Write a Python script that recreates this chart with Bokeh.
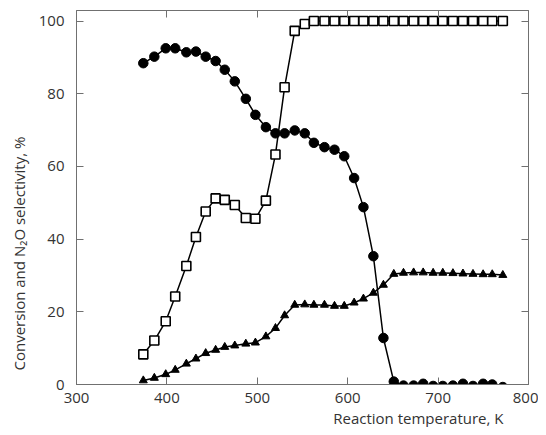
from bokeh.plotting import figure
from bokeh.models import LinearAxis, Range1d, FixedTicker, Title
from bokeh.embed import file_html
from bokeh.resources import INLINE

# Reaction temperature, K
temperature = [373.9, 386.1, 398.7, 409.2, 421.5, 432.1, 442.9, 453.9, 464.0, 475.1,
               487.3, 497.9, 509.5, 520.1, 530.2, 541.4, 552.5, 562.6, 574.3, 585.4,
               596.2, 607.1, 617.4, 628.4, 639.5, 651.0, 661.7, 672.9, 683.5, 694.5,
               705.2, 716.4, 727.5, 738.6, 749.8, 759.9, 771.6]

# open squares
conversion = [8.3, 12.1, 17.4, 24.2, 32.6, 40.6, 47.6, 51.2, 50.8, 49.4,
              45.8, 45.6, 50.6, 63.3, 81.8, 97.3, 99.2, 100, 100, 100,
              100, 100, 100, 100, 100, 100, 100, 100, 100, 100,
              100, 100, 100, 100, 100, 100, 100]

# filled circles
selectivity = [88.4, 90.2, 92.5, 92.5, 91.4, 91.6, 90.2, 89.0, 86.6, 83.4,
               78.6, 74.2, 70.8, 69.1, 69.1, 69.9, 69.1, 66.5, 65.3, 64.6,
               62.8, 56.8, 48.8, 35.3, 12.8, 0.8, -0.3, -0.3, 0.2, -0.4,
               -0.4, -0.3, 0.2, -0.4, 0.2, 0.0, -0.7]

# filled triangles
triangles = [1.1, 1.8, 2.8, 4.0, 5.7, 7.1, 8.6, 9.5, 10.3, 10.7,
             11.2, 11.5, 13.2, 15.5, 19.0, 21.9, 22.0, 21.9, 21.9, 21.6,
             21.6, 22.5, 23.6, 25.2, 27.4, 30.4, 30.7, 30.8, 30.8, 30.7,
             30.7, 30.6, 30.5, 30.4, 30.3, 30.3, 30.1]

x_ticks = [300, 400, 500, 600, 700, 800]
y_ticks = [0, 20, 40, 60, 80, 100]

FONT = "Open Sans"
AX = "#707070"
TXT = "#333333"

p = figure(width=538, height=427, output_backend="svg", toolbar_location=None,
           x_range=Range1d(300, 800), y_range=Range1d(0, 102.9),
           min_border_left=76, min_border_right=10, min_border_top=10,
           min_border_bottom=41)
p.grid.visible = False
p.outline_line_color = AX
p.background_fill_color = "white"
p.border_fill_color = "white"

p.line(temperature, conversion, line_color="black", line_width=1.5)
p.line(temperature, selectivity, line_color="black", line_width=1.5)
p.line(temperature, triangles, line_color="black", line_width=1.5)
p.scatter(temperature, triangles, marker="triangle", size=8,
          fill_color="black", line_color="black")
p.scatter(temperature, selectivity, marker="circle", size=9.5,
          fill_color="black", line_color="black")
p.scatter(temperature, conversion, marker="square", size=9,
          fill_color="white", line_color="black", line_width=1.6)


def style(ax, ticks, show_labels):
    ax.ticker = FixedTicker(ticks=ticks)
    ax.major_tick_in = 7
    ax.major_tick_out = 0
    ax.minor_tick_line_color = None
    ax.axis_line_color = AX
    ax.major_tick_line_color = AX
    ax.major_label_text_font = FONT
    if show_labels:
        ax.major_label_text_font_size = "15px"
        ax.major_label_text_color = TXT
    else:
        ax.major_label_text_font_size = "1px"
        ax.major_label_text_color = None
        ax.major_label_standoff = 0


style(p.xaxis[0], x_ticks, True)
style(p.yaxis[0], y_ticks, True)
p.xaxis[0].major_label_standoff = 8
p.yaxis[0].major_label_standoff = 12

top = LinearAxis()
style(top, x_ticks[1:-1], False)
p.add_layout(top, "above")
right = LinearAxis()
style(right, y_ticks[1:], False)
p.add_layout(right, "right")

xlabel = Title(text="Reaction temperature, K", align="right", offset=25,
               text_font=FONT, text_font_size="15px", text_font_style="normal",
               text_color=TXT, standoff=0)
p.add_layout(xlabel, "below")

ylabel = Title(text="Conversion and N\u2082O selectivity, %", align="left", offset=14,
               text_font=FONT, text_font_size="15px", text_font_style="normal",
               text_color=TXT, standoff=13)
p.add_layout(ylabel, "left")

open("out.html", "w").write(file_html(p, INLINE))
